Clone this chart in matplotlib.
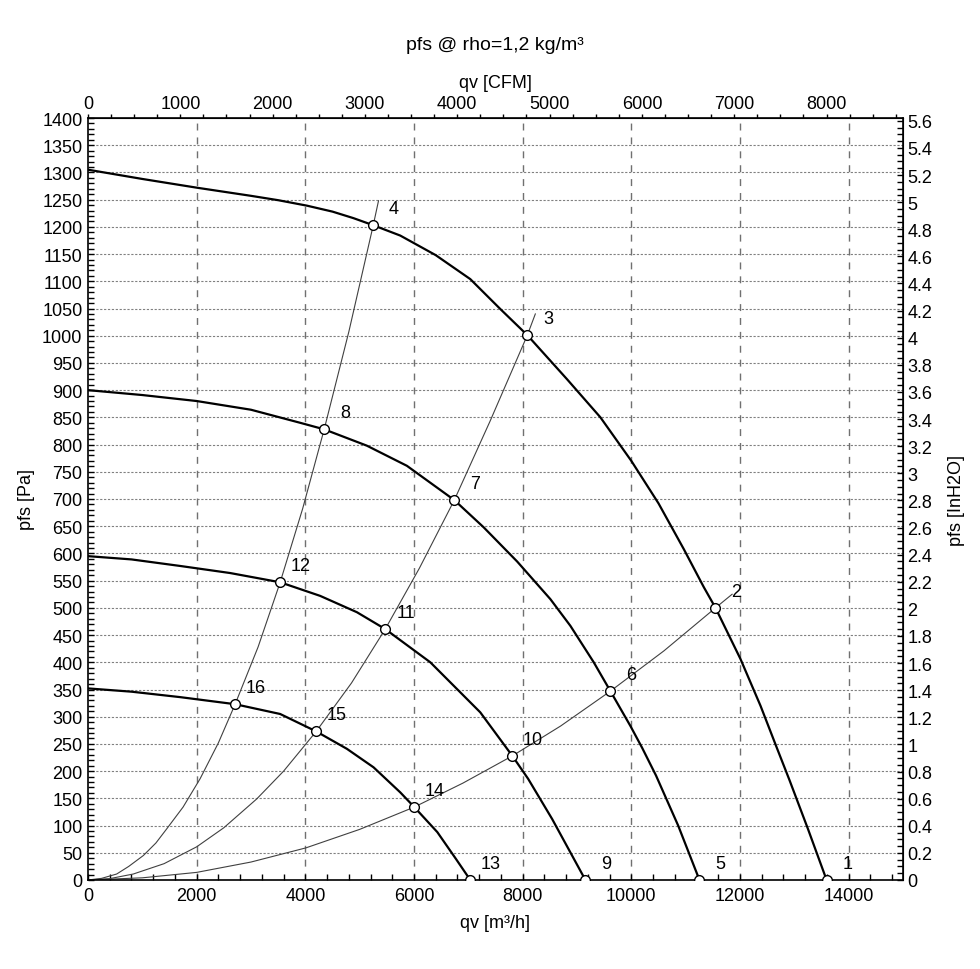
import matplotlib
matplotlib.use('Agg')
import matplotlib.pyplot as plt
from matplotlib.ticker import MultipleLocator, FixedLocator

plt.rcParams['font.family'] = ['Liberation Sans', 'DejaVu Sans']
plt.rcParams['font.size'] = 13

# fan curves (qv in m3/h, pfs in Pa)
fan1_q = [0, 1000, 2000, 3000, 3500, 4027, 4500, 4886, 5250, 5747, 6400, 7036, 7589,
          8086, 8817, 9431, 10000, 10500, 10965, 11334, 11549, 12009, 12378, 12685,
          12909, 13250, 13594]
fan1_p = [1305, 1288, 1272, 1257, 1249, 1239, 1228, 1216, 1203, 1184, 1148, 1104, 1049,
          1001, 920, 850, 770, 692, 608, 538, 500, 406, 320, 241, 184, 94, 0]

fan2_q = [0, 1000, 2000, 3000, 3905, 4347, 5132, 5869, 6742, 7282, 7900, 8510,
          8878, 9308, 9615, 9983, 10198, 10454, 10862, 11254]
fan2_p = [900, 891, 880, 864, 840, 828, 798, 761, 698, 648, 585, 516,
          467, 400, 347, 283, 243, 192, 100, 0]

fan3_q = [0, 800, 1695, 2615, 3537, 4273, 4949, 5471, 6300, 7220, 7810, 8100, 8543, 9155]
fan3_p = [595, 589, 577, 564, 547, 522, 492, 461, 400, 308, 228, 186, 112, 0]

fan4_q = [0, 800, 1695, 2708, 3537, 4200, 4765, 5256, 5747, 6005, 6429, 6770, 7036]
fan4_p = [352, 346, 336, 323, 305, 273, 241, 207, 161, 134, 88, 39, 0]

# system curves
sysA_q = [0, 250, 528, 750, 1019, 1250, 1449, 1750, 2063, 2400, 2708, 3130, 3537,
          3950, 4347, 4800, 5250, 5347]
sysA_p = [0, 3, 11, 25, 45, 68, 94, 134, 186, 252, 323, 428, 547,
          682, 828, 1007, 1203, 1248]

sysB_q = [0, 400, 834, 1400, 2001, 2500, 3106, 3600, 4200, 4850, 5471, 6100, 6742,
          7400, 8086, 8233]
sysB_p = [0, 2.5, 11, 30, 61, 96, 149, 200, 273, 362, 461, 573, 698,
          843, 1001, 1040]

sysC_q = [0, 1000, 2001, 3000, 4010, 5000, 6005, 6900, 7810, 8700, 9615, 10600,
          11549, 11855]
sysC_p = [0, 4, 14, 33, 59, 93, 134, 178, 228, 283, 347, 421, 500, 525]

# operating points and their numbers
point_ids = ['1', '2', '3', '4', '5', '6', '7', '8', '9', '10', '11', '12',
             '13', '14', '15', '16']
point_q = [13594, 11549, 8086, 5250, 11254, 9615, 6742, 4347, 9155, 7810, 5471,
           3537, 7036, 6005, 4200, 2708]
point_p = [0, 500, 1001, 1203, 0, 347, 698, 828, 0, 228, 461, 547, 0, 134, 273, 323]

cfm_ticks = [0, 1000, 2000, 3000, 4000, 5000, 6000, 7000, 8000]
inh2o_ticks = [round(0.2 * i, 1) for i in range(29)]

CFM = 1.69901      # m3/h per CFM
INH2O = 249.089    # Pa per inch of water


def plot_fan_chart():
    fig = plt.figure(figsize=(9.8, 9.7), dpi=100)
    ax = fig.add_axes([88 / 980, 1 - 881 / 970, 815 / 980, 762 / 970])

    # grid
    for y in range(50, 1400, 50):
        ax.axhline(y, color='#808080', lw=0.8, ls=(0, (2, 1.5)), zorder=0)
    for x in range(2000, 15000, 2000):
        ax.axvline(x, color='#707070', lw=1.0, ls=(0, (5, 5)), zorder=0)

    # system curves (thin)
    for q, p in [(sysA_q, sysA_p), (sysB_q, sysB_p), (sysC_q, sysC_p)]:
        ax.plot(q, p, color='#404040', lw=0.8, zorder=2)

    # fan curves (thick)
    for q, p in [(fan1_q, fan1_p), (fan2_q, fan2_p), (fan3_q, fan3_p), (fan4_q, fan4_p)]:
        ax.plot(q, p, color='black', lw=1.6, zorder=3)

    ax.plot(point_q, point_p, 'o', ms=7, mfc='white', mec='black', mew=1.0, ls='none', zorder=4)
    for name, q, p in zip(point_ids, point_q, point_p):
        ax.annotate(name, (q, p), xytext=(15, 12), textcoords='offset points',
                    ha='center', va='center', fontsize=13, zorder=5)

    ax.set_xlim(0, 15000)
    ax.set_ylim(0, 1400)
    ax.xaxis.set_major_locator(MultipleLocator(2000))
    ax.xaxis.set_minor_locator(MultipleLocator(400))
    ax.yaxis.set_major_locator(MultipleLocator(50))
    ax.yaxis.set_minor_locator(MultipleLocator(10))
    ax.tick_params(axis='x', which='both', direction='in', length=4, width=1, pad=5, labelsize=13)
    ax.tick_params(axis='y', which='both', direction='in', length=4, width=1, pad=4, labelsize=13)
    for s in ax.spines.values():
        s.set_linewidth(1.2)

    ax.set_xlabel('qv [m³/h]', fontsize=13, labelpad=7)
    ax.set_ylabel('pfs [Pa]', fontsize=13, labelpad=5)

    # CFM on top
    top = ax.secondary_xaxis('top', functions=(lambda q: q / CFM, lambda c: c * CFM))
    top.xaxis.set_major_locator(FixedLocator(cfm_ticks))
    top.xaxis.set_minor_locator(MultipleLocator(250))
    top.tick_params(which='both', direction='out', length=3, width=1, pad=1, labelsize=13)
    top.set_xlabel('qv [CFM]', fontsize=13, labelpad=6)

    # inches of water on the right
    right = ax.secondary_yaxis('right', functions=(lambda p: p / INH2O, lambda i: i * INH2O))
    right.yaxis.set_minor_locator(MultipleLocator(0.05))
    right.tick_params(which='both', direction='in', length=4, width=1, pad=3, labelsize=13)
    right.set_yticks(inh2o_ticks, ['{:g}'.format(v) for v in inh2o_ticks])
    right.set_ylabel('pfs [InH2O]', fontsize=13, labelpad=11)

    fig.text(0.5047, 1 - 45 / 970, 'pfs @ rho=1,2 kg/m³', ha='center', va='center', fontsize=14)

    fig.savefig('out.png', dpi=100)


if __name__ == '__main__':
    plot_fan_chart()
